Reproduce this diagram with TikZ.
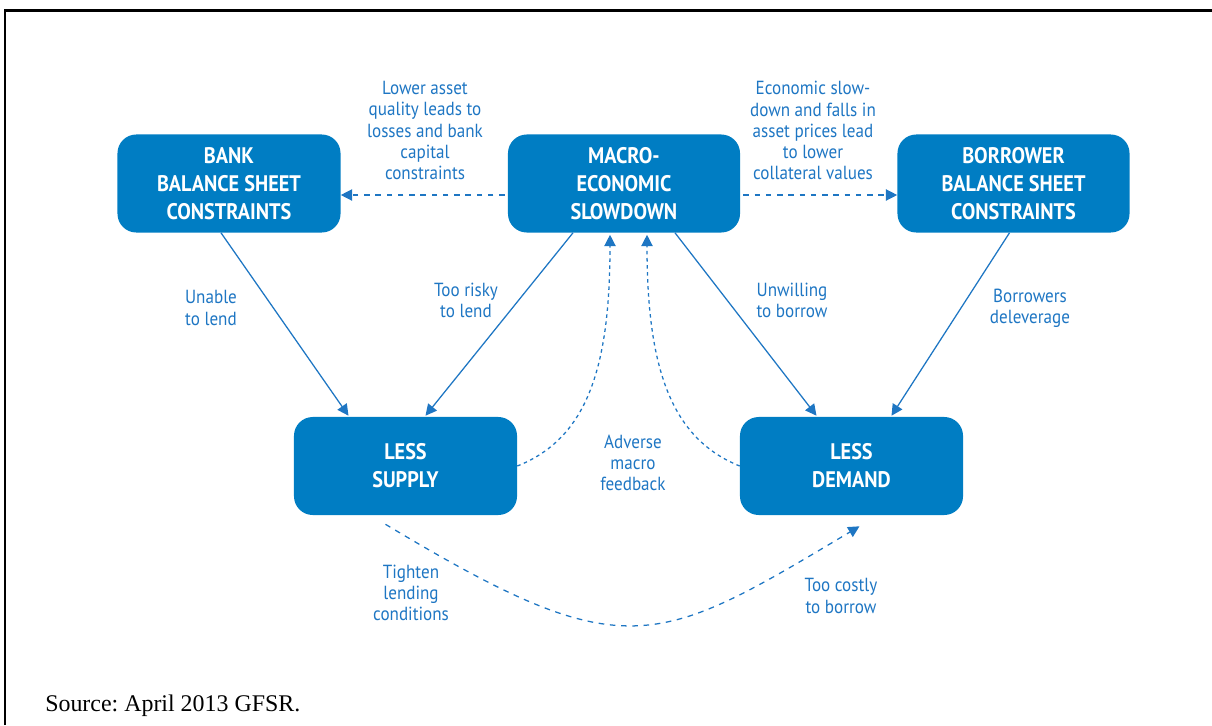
\documentclass[tikz,border=0pt]{standalone}
\usepackage{fontspec}
\setsansfont{PT Sans}[FakeStretch=0.9]
\setmainfont{Liberation Serif}
\usetikzlibrary{arrows.meta,calc}
\frenchspacing
\definecolor{gfsrblue}{RGB}{0,125,195}
\definecolor{linkblue}{RGB}{30,118,195}
\tikzset{
  box/.style={fill=gfsrblue,text=white,rounded corners=0.47cm,minimum width=5.575cm,minimum height=2.45cm,
    align=center,inner sep=0pt,font=\sffamily\bfseries\fontsize{16}{20}\selectfont},
  lbl/.style={text=linkblue,align=center,inner sep=0pt,font=\sffamily\fontsize{13.5}{15}\selectfont},
  link/.style={draw=linkblue,line width=0.9pt,->},
  dashlink/.style={link,dash pattern=on 4pt off 4pt},
  dotlink/.style={link,dash pattern=on 2.5pt off 2.5pt}
}
\begin{document}
\begin{tikzpicture}[x=0.025cm,y=-0.025cm,>={Triangle[length=8pt,width=8pt]}]
	\useasboundingbox (0,0) rectangle (1212,725);
	%FRAME
	\draw[line width=2pt] (5,725) -- (5,10.5) -- (1212,10.5);

	%BOXES
	\node[box] (bank)     at (229,183.5) {BANK\\BALANCE SHEET\\CONSTRAINTS};
	\node[box,minimum width=5.8cm] (macro) at (624,183.5) {MACRO-\\ECONOMIC\\SLOWDOWN};
	\node[box,minimum width=5.8cm] (borrower) at (1013.5,183.5) {BORROWER\\BALANCE SHEET\\CONSTRAINTS};
	\node[box] (supply)   at (405.5,466) {LESS\\SUPPLY};
	\node[box] (demand)   at (851.5,466) {LESS\\DEMAND};

	%TOP ARCS
	\draw[dashlink] ($(macro.west)+(-3,11.5)$) -- ($(bank.east)+(0,11.5)$);
	\draw[dashlink] ($(macro.east)+(3,11.5)$) -- ($(borrower.west)+(0,11.5)$);
	\node[lbl] (lowerasset) at (425,130.5) {Lower asset\\quality leads to\\losses and bank\\capital\\constraints};
	\node[lbl] (slowdown)   at (813,130.5) {Economic slow-\\down and falls in\\asset prices lead\\to lower\\collateral values};

	%DOWN ARCS
	\draw[link] ($(bank.south)+(-8,0)$) -- ($(supply.north)+(-57,-1)$);
	\draw[link] ($(macro.south)+(-51,0)$) -- ($(supply.north)+(20,-1)$);
	\draw[link] ($(macro.south)+(51,0)$) -- ($(demand.north)+(-35,-1)$);
	\draw[link] ($(borrower.south)+(-4,0)$) -- ($(demand.north)+(40,-1)$);
	\node[lbl] (unable)    at (211,308) {Unable\\to lend};
	\node[lbl] (toorisky)  at (466,300) {Too risky\\to lend};
	\node[lbl] (unwilling) at (792,300) {Unwilling\\to borrow};
	\node[lbl] (delever)   at (1030,308) {Borrowers\\deleverage};

	%FEEDBACK
	\draw[dotlink] (supply.east) .. controls (588,438) and (610,366) .. ($(macro.south)+(-14,2)$);
	\draw[dotlink] (demand.west) .. controls (670,438) and (647,366) .. ($(macro.south)+(23,2)$);
	\node[lbl] (adverse) at (633,463) {Adverse\\macro\\feedback};

	%BOTTOM ARC
	\draw[dashlink] ($(supply.south)+(-20,9)$) .. controls (625,668) and (654,649) .. ($(demand.south)+(8,11)$);
	\node[lbl] (tighten)    at (411,593) {Tighten\\lending\\conditions};
	\node[lbl] (toocostly)  at (841,596) {Too costly\\to borrow};

	%SOURCE
	\node[anchor=base west,inner sep=0pt,font=\fontsize{17}{20}\selectfont] (source) at (45,711) {Source: April 2013 GFSR.};
\end{tikzpicture}
\end{document}
